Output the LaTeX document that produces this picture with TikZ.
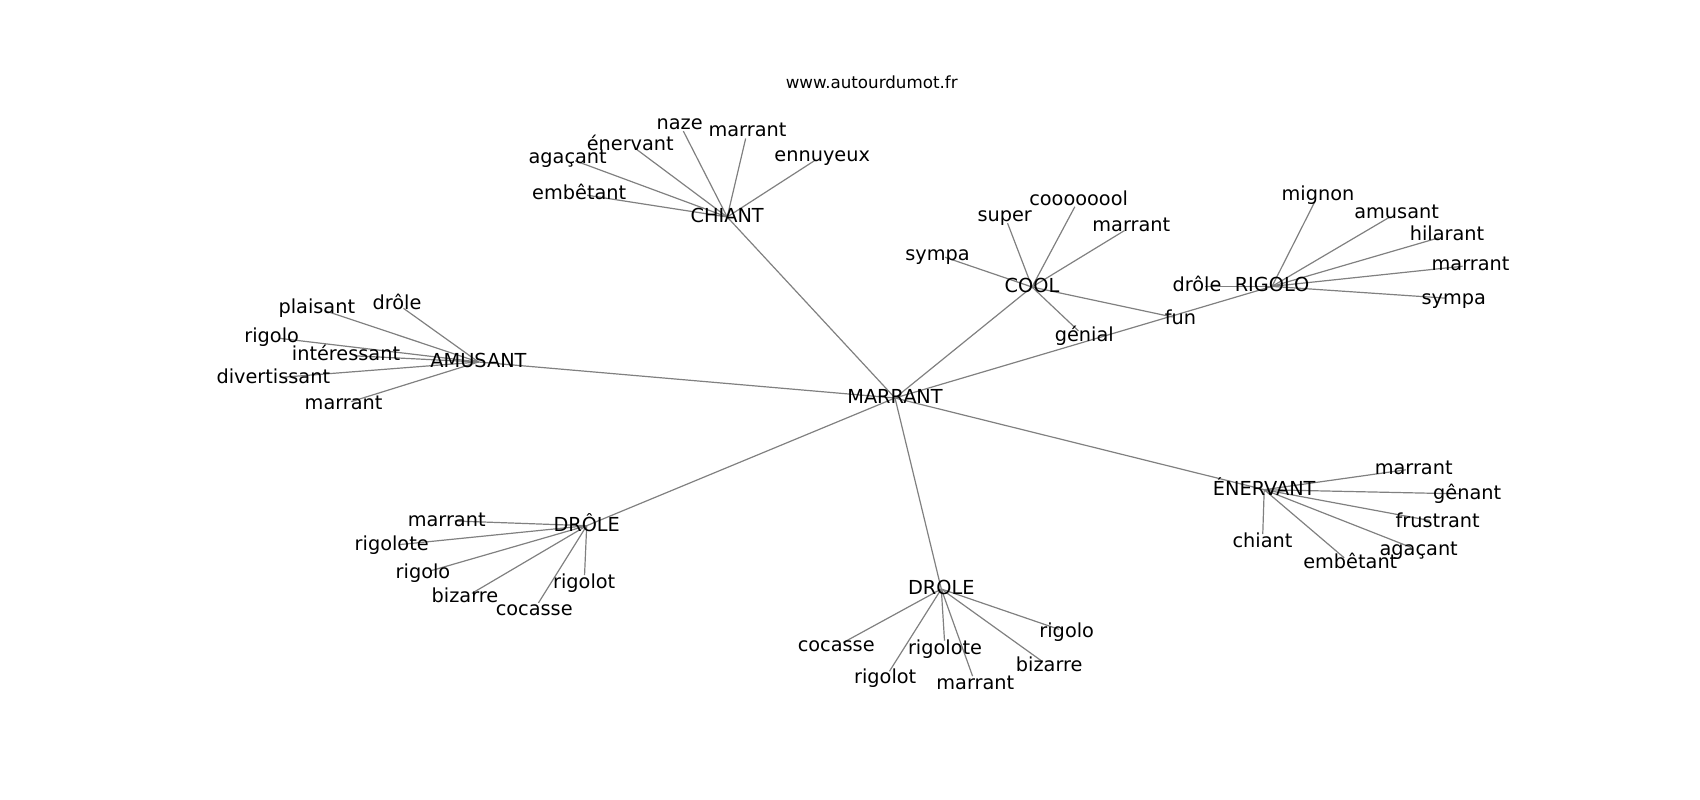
\documentclass[tikz,border=0pt]{standalone}
\usepackage{fontspec}
\setmainfont{DejaVu Sans}
\usetikzlibrary{backgrounds}
\begin{document}
\begin{tikzpicture}[x=1pt,y=-1pt,
  lbl/.style={inner sep=0pt, text height=14.7pt, text depth=4.05pt, font=\fontsize{19.3pt}{23pt}\selectfont},
  ttl/.style={inner sep=0pt, text height=12.7pt, text depth=3.5pt, font=\fontsize{16.7pt}{20pt}\selectfont},
  hubedge/.style={draw=black!50, line width=1.2pt},
  leafedge/.style={draw=black!50, line width=1.2pt, shorten >=8pt}]
\useasboundingbox (0,0) rectangle (1700,800);
\node[ttl] (title) at (871.7,83.7) {www.autourdumot.fr};
% hubs
\node[lbl] (marrant) at (895,398) {MARRANT};
\node[lbl] (chiant) at (727.2,217) {CHIANT};
\node[lbl] (amusant) at (478.5,362) {AMUSANT};
\node[lbl] (cool) at (1032,287) {COOL};
\node[lbl] (rigolo) at (1272,286.4) {RIGOLO};
\node[lbl] (enervant) at (1264.2,489.7) {ÉNERVANT};
\node[lbl] (droleA) at (586.7,525.7) {DRÔLE};
\node[lbl] (droleB) at (941.3,589) {DROLE};
% CHIANT leaves
\node[lbl] (c1) at (679.7,124) {naze};
\node[lbl] (c2) at (747.5,130.7) {marrant};
\node[lbl] (c3) at (822.2,155.7) {ennuyeux};
\node[lbl] (c4) at (630.3,144.7) {énervant};
\node[lbl] (c5) at (567.7,158) {agaçant};
\node[lbl] (c6) at (579.2,194) {embêtant};
% AMUSANT leaves
\node[lbl] (a1) at (316.8,308) {plaisant};
\node[lbl] (a2) at (397,303.7) {drôle};
\node[lbl] (a3) at (271.7,337.4) {rigolo};
\node[lbl] (a4) at (346,355.4) {intéressant};
\node[lbl] (a5) at (273.3,378) {divertissant};
\node[lbl] (a6) at (343.6,404) {marrant};
% COOL leaves
\node[lbl] (o1) at (1004.7,215.7) {super};
\node[lbl] (o2) at (1078.6,199.7) {coooooool};
\node[lbl] (o3) at (1131.3,226.4) {marrant};
\node[lbl] (o4) at (937.5,254.7) {sympa};
\node[lbl] (o5) at (1084.3,336.4) {génial};
\node[lbl] (o6) at (1180.5,318.7) {fun};
% RIGOLO leaves
\node[lbl] (r1) at (1318,195.4) {mignon};
\node[lbl] (r2) at (1396.6,213) {amusant};
\node[lbl] (r3) at (1447,235.4) {hilarant};
\node[lbl] (r4) at (1470.5,265.4) {marrant};
\node[lbl] (r5) at (1453.8,298.7) {sympa};
\node[lbl] (r6) at (1197,286.4) {drôle};
% ENERVANT leaves
\node[lbl] (e1) at (1413.7,468.7) {marrant};
\node[lbl] (e2) at (1467.2,494) {gênant};
\node[lbl] (e3) at (1437.7,522) {frustrant};
\node[lbl] (e4) at (1418.7,550.4) {agaçant};
\node[lbl] (e5) at (1350.3,563) {embêtant};
\node[lbl] (e6) at (1262.5,542) {chiant};
% DRÔLE leaves
\node[lbl] (d1) at (446.7,520.7) {marrant};
\node[lbl] (d2) at (391.7,545.4) {rigolote};
\node[lbl] (d3) at (423,573) {rigolo};
\node[lbl] (d4) at (465,597.4) {bizarre};
\node[lbl] (d5) at (534.2,609.7) {cocasse};
\node[lbl] (d6) at (584.2,583) {rigolot};
% DROLE leaves
\node[lbl] (b1) at (836.2,646.4) {cocasse};
\node[lbl] (b2) at (885.2,678) {rigolot};
\node[lbl] (b3) at (945,648.7) {rigolote};
\node[lbl] (b4) at (975.3,683.7) {marrant};
\node[lbl] (b5) at (1049.2,666.4) {bizarre};
\node[lbl] (b6) at (1066.7,632) {rigolo};
\begin{pgfonlayer}{background}
\foreach \h in {chiant,amusant,cool,rigolo,enervant,droleA,droleB}
  \draw[hubedge] (marrant.center) -- (\h.center);
\foreach \l in {c1,c2,c3,c4,c5,c6} \draw[leafedge] (chiant.center) -- (\l.center);
\foreach \l in {a1,a2,a3,a4,a5,a6} \draw[leafedge] (amusant.center) -- (\l.center);
\foreach \l in {o1,o2,o3,o4,o5,o6} \draw[leafedge] (cool.center) -- (\l.center);
\foreach \l in {r1,r2,r3,r4,r5,r6} \draw[leafedge] (rigolo.center) -- (\l.center);
\foreach \l in {e1,e2,e3,e4,e5,e6} \draw[leafedge] (enervant.center) -- (\l.center);
\foreach \l in {d1,d2,d3,d4,d5,d6} \draw[leafedge] (droleA.center) -- (\l.center);
\foreach \l in {b1,b2,b3,b4,b5,b6} \draw[leafedge] (droleB.center) -- (\l.center);
\end{pgfonlayer}
\end{tikzpicture}
\end{document}
